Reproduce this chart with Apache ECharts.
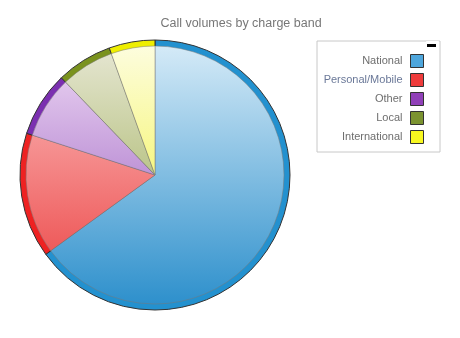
<!DOCTYPE html>
<html><head><meta charset="utf-8">
<script src="https://cdn.jsdelivr.net/npm/echarts@6/dist/echarts.min.js"></script>
<style>html,body{margin:0;padding:0;background:#fff}#c{width:460px;height:338px}</style>
</head><body><div id="c"></div>
<script>
const categories = ["National", "Personal/Mobile", "Other", "Local", "International"];
const values = [65, 15, 7.8, 6.7, 5.5];

const ringColors = ["#2391cf", "#ee2222", "#7b2fb0", "#7a921e", "#eeee00"];
const lightColors = ["#d8ecf8", "#fdc6c6", "#f0dcf6", "#e8e8d6", "#fdfde2"];
const darkColors = ["#2a8ecb", "#ea3c3c", "#8e4cb8", "#8ea23c", "#f0f020"];
const swatchColors = ["#4ea6dc", "#ee3b3b", "#9040b8", "#7b9330", "#f8f820"];

const cx = 155, cy = 175, R = 135;

function grad(i) {
  return new echarts.graphic.LinearGradient(0, cy - R, 0, cy + R, [
    {offset: 0, color: lightColors[i]},
    {offset: 1, color: darkColors[i]}
  ], true);
}

const chart = echarts.init(document.getElementById('c'), null, {renderer: 'canvas'});
chart.setOption({
  animation: false,
  title: {
    text: 'Call volumes by charge band',
    left: 236, top: 12, textAlign: 'center',
    textStyle: {color: '#777', fontSize: 12.5, fontWeight: 'normal', fontFamily: 'Liberation Sans, Arial, sans-serif'}
  },
  graphic: [
    {type: 'rect', left: 316.5, top: 40.5, shape: {width: 123, height: 111},
     style: {fill: '#fff', stroke: '#c8c8c8', lineWidth: 1}, z: 0},
    {type: 'rect', left: 426, top: 41, shape: {width: 12, height: 10},
     style: {fill: '#fff', stroke: '#fff'}, z: 1},
    {type: 'rect', left: 427, top: 44, shape: {width: 9, height: 3},
     style: {fill: '#000'}, z: 2}
  ],
  legend: {
    orient: 'vertical', right: 36, top: 54, align: 'right',
    itemWidth: 13, itemHeight: 13, itemGap: 5, padding: 0,
    selectedMode: false, icon: 'rect', z: 5,
    textStyle: {color: '#6e6e6e', fontSize: 11, fontFamily: 'Liberation Sans, Arial, sans-serif', padding: [0, 3, 0, 0]},
    data: categories.map((n, i) => ({
      name: n,
      itemStyle: {color: swatchColors[i], borderColor: '#333', borderWidth: 1},
      textStyle: i === 1 ? {color: '#6a7898'} : undefined
    }))
  },
  series: [
    {
      type: 'pie', center: [cx, cy], radius: [0, R], startAngle: 90, clockwise: true,
      label: {show: false}, labelLine: {show: false}, silent: true,
      emphasis: {disabled: true}, legendHoverLink: false,
      itemStyle: {borderColor: '#333', borderWidth: 1},
      data: categories.map((n, i) => ({name: n, value: values[i], itemStyle: {color: ringColors[i]}}))
    },
    {
      type: 'pie', center: [cx, cy], radius: [0, R - 6], startAngle: 90, clockwise: true,
      label: {show: false}, labelLine: {show: false},
      emphasis: {scale: false},
      itemStyle: {borderColor: 'rgba(120,120,120,0.5)', borderWidth: 1},
      data: categories.map((n, i) => ({name: n, value: values[i], itemStyle: {color: grad(i)}}))
    }
  ]
});
</script></body></html>
